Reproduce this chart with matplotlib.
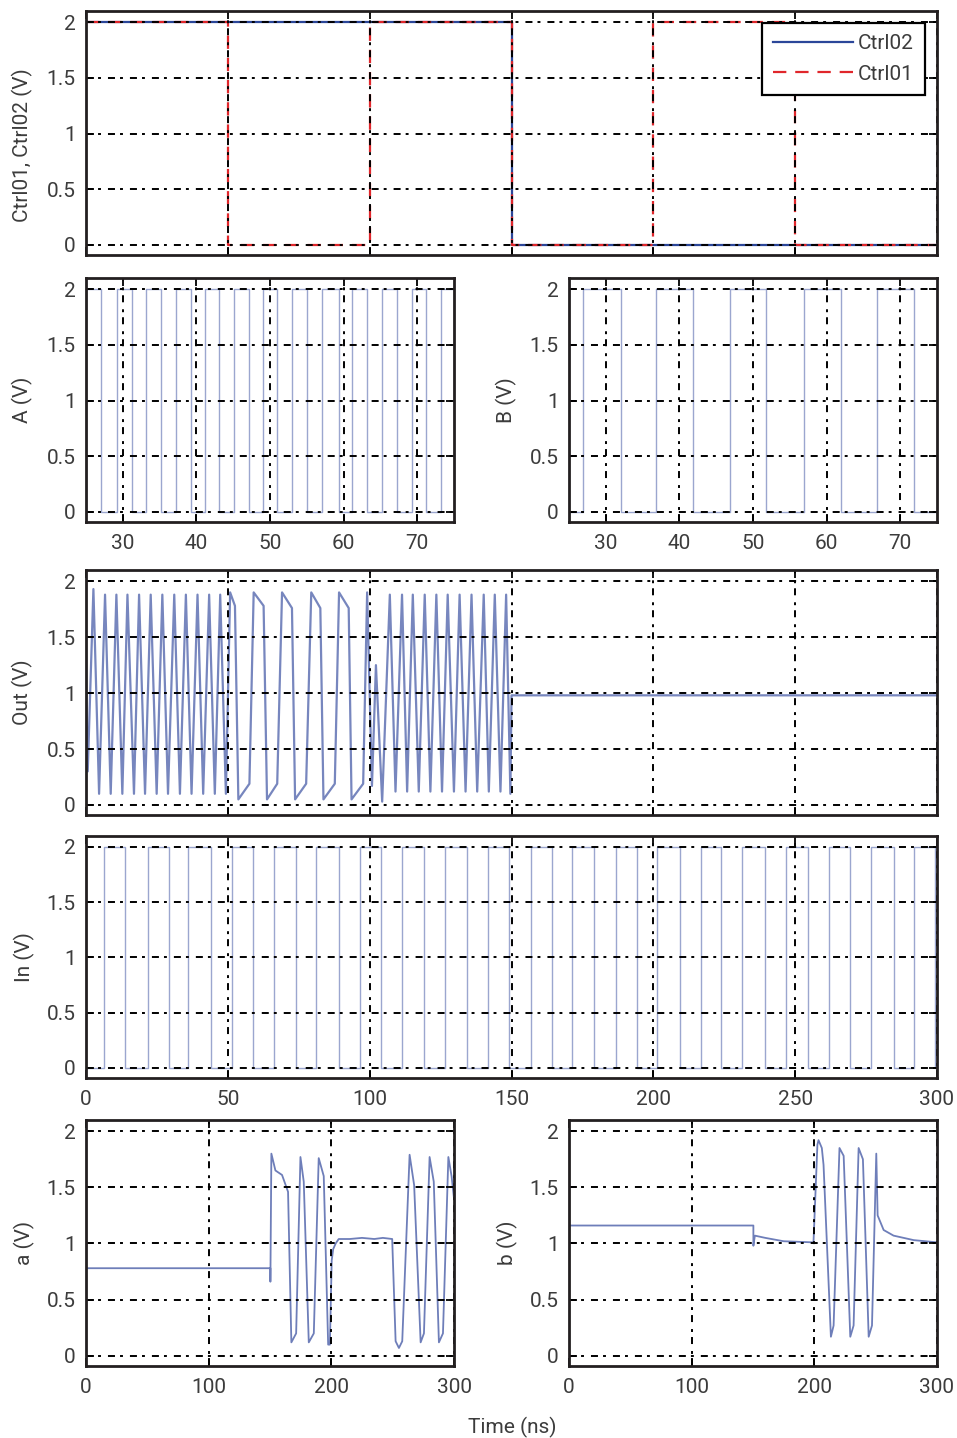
import matplotlib
matplotlib.use("Agg")
import matplotlib.pyplot as plt

plt.rcParams['font.family'] = ['Roboto', 'DejaVu Sans']

# --- control lines, 0-300 ns (step levels) ---
ctrl_t = [0, 50, 100, 150, 200, 250, 300]
ctrl02_v = [2, 2, 2, 0, 0, 0, 0]
ctrl01_v = [2, 0, 2, 0, 2, 0, 0]

# --- inputs A, B in the 25-75 ns window: edge times (ns), start level ---
a_edges = [25.0, 27.1, 29.2, 31.2, 33.2, 35.2, 37.2, 39.2, 41.1, 43.0, 45.1,
           47.1, 49.1, 51.0, 53.0, 55.0, 57.1, 59.4, 61.2, 63.2, 65.2, 67.3,
           69.3, 71.2, 73.3]
a_start = 0
a_end = 0.75
b_edges = [26.9, 32.1, 36.8, 41.9, 46.9, 51.8, 56.9, 62.0, 66.8, 71.9]
b_start = 0

# --- input In, 0-300 ns ---
in_edges = [6.5, 13.8, 21.8, 29.1, 36.1, 44.0, 51.4, 58.7, 66.4, 74.0, 81.2,
            89.3, 96.7, 104.1, 111.4, 119.3, 126.5, 134.4, 141.7, 149.1,
            156.7, 164.4, 171.4, 179.1, 186.7, 194.1, 201.4, 209.4, 216.7,
            224.0, 231.4, 239.3, 246.7, 254.4, 262.0, 269.4, 276.7, 284.7,
            292.0, 299.3]
in_start = 0

# --- output Out, vertices (ns, V) ---
out_t = [0, 0.6, 2.6, 4.6, 6.7, 8.7, 10.7, 12.8, 14.6, 16.9, 18.7, 20.8, 22.8,
         24.9, 26.9, 28.9, 31.1, 33.1, 35.2, 37.2, 39.3, 41.3, 43.4, 45.4,
         47.3, 49.3,
         50.8, 52.5, 53.7, 57.6, 59.1, 62.6, 63.8, 67.4, 69.1, 72.6, 73.7,
         77.6, 79.4, 82.6, 83.7, 87.7, 89.2, 92.6, 93.6, 97.7, 99.1,
         100.8, 102.2, 104.4, 107.1, 109.1, 111.4, 113.2, 115.2, 117.3, 119.4,
         121.4, 123.5, 125.5, 127.5, 129.7, 131.7, 133.8, 135.9, 137.9, 140.2,
         142.0, 144.1, 146.1, 148.1, 149.6,
         150.0, 300.0]
out_v = [1.0, 0.3, 1.93, 0.1, 1.88, 0.1, 1.88, 0.1, 1.88, 0.1, 1.88, 0.1, 1.88,
         0.1, 1.88, 0.1, 1.88, 0.1, 1.88, 0.1, 1.88, 0.1, 1.88, 0.1,
         1.88, 0.1,
         1.9, 1.78, 0.05, 0.19, 1.9, 1.78, 0.05, 0.19, 1.9, 1.76, 0.05,
         0.19, 1.9, 1.76, 0.05, 0.19, 1.9, 1.76, 0.05, 0.19, 1.9,
         0.17, 1.25, 0.03, 1.88, 0.12, 1.88, 0.12, 1.88, 0.12, 1.88,
         0.12, 1.88, 0.12, 1.88, 0.12, 1.88, 0.12, 1.88, 0.12, 1.88,
         0.12, 1.88, 0.12, 1.88, 0.1,
         0.98, 0.98]

# --- internal nodes a, b, vertices (ns, V) ---
na_t = [0, 150.3, 150.3, 151.1, 154.4, 159.8, 164.7, 167.4, 171.3, 174.8,
        177.5, 181.6, 185.7, 189.7, 193.8, 197.4, 198.8, 200.3, 201.5, 203.5,
        206.0, 215.0, 225.0, 235.0, 242.0, 249.6, 252.4, 255.1, 257.8, 263.8,
        267.5, 272.8, 275.5, 280.1, 283.5, 287.7, 291.0, 295.4, 298.0, 300.0]
na_v = [0.78, 0.78, 0.66, 1.8, 1.65, 1.61, 1.46, 0.12, 0.2, 1.77,
        1.55, 0.12, 0.2, 1.76, 1.6, 0.1, 0.1, 0.85, 0.95, 1.0,
        1.04, 1.04, 1.05, 1.04, 1.05, 1.04, 0.13, 0.07, 0.13, 1.79,
        1.52, 0.12, 0.2, 1.77, 1.55, 0.12, 0.2, 1.77, 1.6, 1.4]

nb_t = [0, 150.3, 150.3, 151.5, 160.0, 175.0, 199.3, 202.5, 203.4, 206.1,
        207.5, 213.5, 215.7, 220.5, 223.9, 229.3, 232.0, 236.1, 239.6, 244.3,
        247.0, 250.5, 251.6, 256.5, 264.6, 281.0, 300.0]
nb_v = [1.16, 1.16, 0.98, 1.07, 1.05, 1.02, 1.01, 1.88, 1.92, 1.85,
        1.7, 0.17, 0.27, 1.85, 1.78, 0.17, 0.27, 1.85, 1.75, 0.17,
        0.27, 1.8, 1.25, 1.12, 1.07, 1.03, 1.01]

yticks = [0, 0.5, 1, 1.5, 2]
ytick_labels = ['0', '0.5', '1', '1.5', '2']

BLUE = '#2b4699'
RED = '#e0262b'
TRACE = '#4a5ea8'
TXT = '#3c3c3c'
GRID_DASH = (0, (3.6, 2.6, 1.5, 3.6))


def square(edges, start, t0, t1):
    t = [t0] + list(edges) + [t1]
    v = [start]
    lvl = start
    for _ in edges:
        lvl = 2 - lvl
        v.append(lvl)
    v.append(lvl)
    return t, v


def style(ax, xlim, xticks, xlabels, ylabel, lab_x, lab_y=0.5):
    ax.set_xlim(*xlim)
    ax.set_ylim(-0.09, 2.1)
    ax.set_xticks(xticks)
    if xlabels:
        ax.set_xticklabels([str(x) for x in xticks])
    else:
        ax.set_xticklabels([])
    ax.set_yticks(yticks)
    ax.set_yticklabels(ytick_labels)
    ax.grid(True, color='k', linestyle=GRID_DASH, linewidth=1.4)
    ax.set_axisbelow(False)
    ax.tick_params(direction='in', length=6, width=1.3, top=True, right=True,
                   labelsize=15, labelcolor=TXT, pad=7.5)
    ax.tick_params(axis='x', pad=8.5)
    for s in ax.spines.values():
        s.set_linewidth(2.0)
        s.set_color('#231f20')
        s.set_zorder(5)
    ax.set_ylabel(ylabel, fontsize=15, color=TXT)
    ax.yaxis.set_label_coords(lab_x, lab_y)


fig = plt.figure(figsize=(9.57, 14.38), dpi=100)

# control lines
ax = fig.add_axes([0.0899, 0.8227, 0.8892, 0.1697])
ax.plot(ctrl_t, ctrl02_v, drawstyle='steps-post', color=BLUE, lw=1.6, label='Ctrl02')
ax.plot(ctrl_t, ctrl01_v, drawstyle='steps-post', color=RED, lw=1.6,
        linestyle=(0, (6, 4)), label='Ctrl01')
style(ax, (0, 300), [0, 50, 100, 150, 200, 250, 300], False,
      'Ctrl01, Ctrl02 (V)', -0.062, 0.45)
leg = ax.legend(loc='upper right', bbox_to_anchor=(0.986, 0.952), fontsize=15,
                handlelength=3.8, handletextpad=0.25, borderpad=0.55,
                labelspacing=0.55, borderaxespad=0, fancybox=False,
                framealpha=1)
leg.get_frame().set_edgecolor('k')
leg.get_frame().set_linewidth(1.6)
for t in leg.get_texts():
    t.set_color(TXT)

# A
ax = fig.add_axes([0.0899, 0.6370, 0.3845, 0.1697])
t, v = square(a_edges, a_start, 25, 75)
v[-1] = a_end
ax.plot(t, v, drawstyle='steps-post', color=TRACE, lw=1.0, alpha=0.55)
style(ax, (25, 75), [30, 40, 50, 60, 70], True, 'A (V)', -0.144)

# B
ax = fig.add_axes([0.5946, 0.6370, 0.3845, 0.1697])
t, v = square(b_edges, b_start, 25, 75)
ax.plot(t, v, drawstyle='steps-post', color=TRACE, lw=1.0, alpha=0.55)
style(ax, (25, 75), [30, 40, 50, 60, 70], True, 'B (V)', -0.141)

# Out
ax = fig.add_axes([0.0899, 0.4332, 0.8892, 0.1704])
ax.plot(out_t, out_v, color=TRACE, lw=1.6, alpha=0.75)
style(ax, (0, 300), [0, 50, 100, 150, 200, 250, 300], False, 'Out (V)', -0.062)

# In
ax = fig.add_axes([0.0899, 0.2504, 0.8892, 0.1683])
t, v = square(in_edges, in_start, 0, 300)
ax.plot(t, v, drawstyle='steps-post', color=TRACE, lw=1.0, alpha=0.55)
style(ax, (0, 300), [0, 50, 100, 150, 200, 250, 300], True, 'In (V)', -0.060)

# a
ax = fig.add_axes([0.0899, 0.0501, 0.3845, 0.1711])
ax.plot(na_t, na_v, color=TRACE, lw=1.3, alpha=0.8)
style(ax, (0, 300), [0, 100, 200, 300], True, 'a (V)', -0.139)

# b
ax = fig.add_axes([0.5946, 0.0501, 0.3845, 0.1711])
ax.plot(nb_t, nb_v, color=TRACE, lw=1.3, alpha=0.8)
style(ax, (0, 300), [0, 100, 200, 300], True, 'b (V)', -0.139)

fig.text(0.5355, 0.0075, 'Time (ns)', ha='center', va='center', fontsize=15,
         color=TXT)

fig.savefig('out.png', dpi=100)
